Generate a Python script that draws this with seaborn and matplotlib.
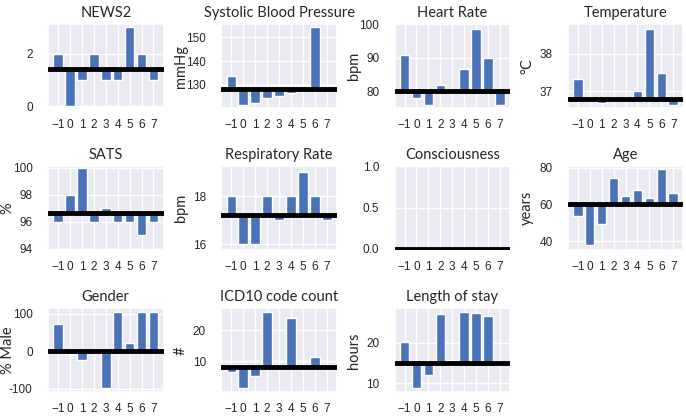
import numpy as np
import pandas as pd
import matplotlib.pyplot as plt
import seaborn as sns


# the groups on the x axis
groups = [-1, 0, 1, 2, 3, 4, 5, 6, 7]
group_labels = ["−1", "0", "1", "2", "3", "4", "5", "6", "7"]

# mean value per group (nan = no bar drawn for that group)
news2          = [2, 0, 1, 2, 1, 1, 3, 2, 1]
sbp            = [133.8, 121.5, 122.4, 124.6, 125.4, 126.8, np.nan, 154.3, np.nan]
heart_rate     = [90.9, 78.0, 76.0, 82.0, np.nan, 86.6, 98.5, 89.8, 76.0]
temperature    = [37.33, np.nan, 36.70, np.nan, np.nan, 37.0, 38.67, 37.49, 36.64]
sats           = [96, 98, 100, 96, 97, 96, 96, 95, 96]
resp_rate      = [18, 16, 16, 18, 17, 18, 19, 18, 17]
consciousness  = [0, 0, 0, 0, 0, 0, 0, 0, 0]
age            = [53.6, 37.8, 49.2, 74.5, 64.6, 67.7, 63.3, 79.4, 66.4]
gender         = [72, -8, -24, np.nan, -97, 105, 23, 105, 105]
icd10_count    = [6.4, 1.3, 5.3, 25.9, np.nan, 23.8, np.nan, 11.5, np.nan]
length_of_stay = [20.2, 8.8, 12.2, 27.1, 15.8, 27.75, 27.5, 26.7, np.nan]

# overall mean of each variable (the black line)
overall_mean = [1.4, 128.3, 80.2, 36.79, 96.65, 17.24, 0.0, 60.4, 0.0, 8.0, 15.0]

titles = ["NEWS2", "Systolic Blood Pressure", "Heart Rate", "Temperature",
          "SATS", "Respiratory Rate", "Consciousness", "Age",
          "Gender", "ICD10 code count", "Length of stay"]
units = ["", "mmHg", "bpm", "°C", "%", "bpm", "", "years", "% Male", "#", "hours"]

ytick_values = [[0, 2], [130, 140, 150], [80, 90, 100], [37, 38],
                [94, 96, 98, 100], [16, 18], [0, 0.5, 1.0], [40, 60, 80],
                [-100, 0, 100], [10, 20], [10, 20]]
ytick_labels = [["0", "2"], ["130", "140", "150"], ["80", "90", "100"], ["37", "38"],
                ["94", "96", "98", "100"], ["16", "18"], ["0.0", "0.5", "1.0"],
                ["40", "60", "80"], ["-100", "0", "100"], ["10", "20"], ["10", "20"]]

panels = [news2, sbp, heart_rate, temperature, sats, resp_rate,
          consciousness, age, gender, icd10_count, length_of_stay]

# axis ranges
ylims = [(-0.08, 3.12), (120.3, 155.4), (75.0, 100.0), (36.55, 38.79),
         (93.9, 100.1), (15.76, 19.25), (-0.015, 1.0), (35.0, 80.9),
         (-109, 115), (0.0, 27.1), (7.8, 28.6)]


sns.set_theme(style="darkgrid")
plt.rcParams["font.family"] = ["Lato", "DejaVu Sans"]

fig, axes = plt.subplots(3, 4, figsize=(6.86, 4.16), dpi=100)
fig.subplots_adjust(left=0.07, right=0.996, top=0.942, bottom=0.057,
                    wspace=0.5, hspace=0.69)

tick_font = dict(fontfamily="Liberation Sans", fontsize=8.5)

for ax, vals, title, unit, mean, yt, ytl, ylim in zip(
        axes.flat, panels, titles, units, overall_mean,
        ytick_values, ytick_labels, ylims):

    df = pd.DataFrame({"group": groups, "value": vals}).dropna()
    df["diff"] = df["value"] - mean

    # bars go from the overall mean up/down to the group mean
    sns.barplot(data=df, x="group", y="diff", native_scale=True, bottom=mean,
                color="#4A72B8", saturation=1, errorbar=None, ax=ax)
    ax.axhline(mean, color="black", lw=3.5, zorder=3)

    ax.set_xlim(-1.84, 7.84)
    ax.set_ylim(*ylim)
    ax.set_xticks(groups, group_labels, **tick_font)
    ax.set_yticks(yt, ytl, **tick_font)
    ax.tick_params(axis="x", pad=2)
    ax.tick_params(axis="y", pad=5)

    ax.set_title(title, fontsize=10.5, pad=5)
    ax.set_xlabel("")
    ax.set_ylabel(unit, fontsize=10.5)
    # unit label sits close to the ticks, as in the original
    ax.yaxis.set_label_coords(-0.29, 0.5)

axes.flat[-1].axis("off")

fig.savefig("out.png", dpi=100)
